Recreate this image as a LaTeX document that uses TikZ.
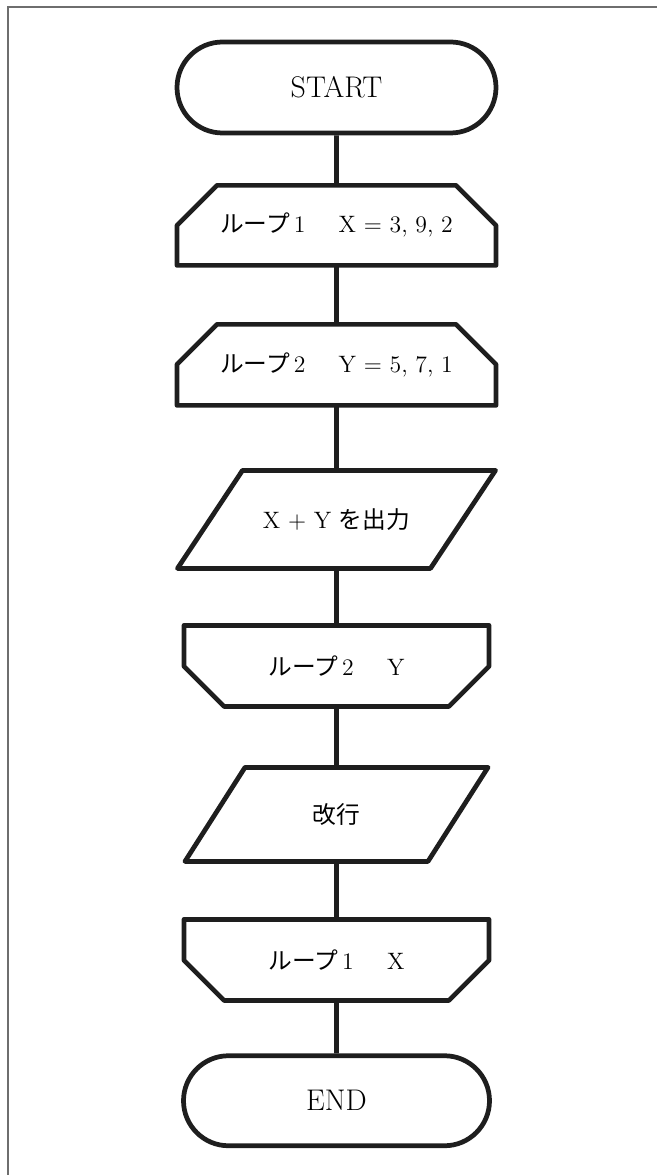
\documentclass[tikz,border=0pt]{standalone}
\usepackage{fontspec}
\newfontfamily\jpfont{Noto Sans CJK JP}
\usetikzlibrary{shapes.misc,positioning,calc}
\definecolor{fcline}{HTML}{1E1E1E}
\definecolor{fcframe}{HTML}{6E6E6E}

\newcommand{\chf}{0.8}
\newcommand{\lgap}{\hspace{1.4em}}

\begin{document}
\begin{tikzpicture}[
  outline/.style={draw=fcline,line width=2.7pt,line join=round},
  term/.style={rounded rectangle,outline,minimum height=1.82cm,inner sep=0pt,
    font=\fontsize{17}{20}\selectfont},
  shapebox/.style={rectangle,inner sep=0pt,outer sep=0pt,minimum height=1.62cm,
    font=\fontsize{13.5}{16}\selectfont},
  link/.style={fcline,line width=2.7pt}]
  \useasboundingbox (0,0) rectangle (13.14,-23.5);
  \draw[fcframe,line width=0.75pt] (13.14,-0.14) -- (0.16,-0.14) -- (0.16,-23.5);

  \node[term,minimum width=6.38cm] (start) at (6.73,-1.75) {START};
  \node[shapebox,minimum width=6.38cm,minimum height=1.6cm,below=1.0cm of start] (lpa)
    {{\jpfont ループ}\,1\lgap X = 3, 9, 2};
  \node[shapebox,minimum width=6.38cm,below=1.18cm of lpa] (lpb)
    {{\jpfont ループ}\,2\lgap Y = 5, 7, 1};
  \node[shapebox,minimum width=6.36cm,minimum height=1.96cm,below=1.3cm of lpb] (out)
    {X + Y {\jpfont を出力}};
  \node[shapebox,minimum width=6.1cm,below=1.14cm of out] (lpc)
    {{\jpfont ループ}\,2\lgap Y};
  \node[shapebox,minimum width=6.06cm,minimum height=1.88cm,below=1.22cm of lpc] (nl)
    {\jpfont 改行};
  \node[shapebox,minimum width=6.1cm,below=1.16cm of nl] (lpd)
    {{\jpfont ループ}\,1\lgap X};
  \node[term,minimum width=6.12cm,minimum height=1.8cm,below=1.06cm of lpd] (end) {END};

  % loop heads: top corners cut
  \foreach \n in {lpa,lpb}
    \draw[outline] (\n.south west) -- ($(\n.north west)+(0,-\chf)$) -- ($(\n.north west)+(\chf,0)$)
      -- ($(\n.north east)+(-\chf,0)$) -- ($(\n.north east)+(0,-\chf)$) -- (\n.south east) -- cycle;
  % loop ends: bottom corners cut
  \foreach \n in {lpc,lpd}
    \draw[outline] (\n.north west) -- (\n.north east) -- ($(\n.south east)+(0,\chf)$)
      -- ($(\n.south east)+(-\chf,0)$) -- ($(\n.south west)+(\chf,0)$) -- ($(\n.south west)+(0,\chf)$) -- cycle;
  % data in/out
  \foreach \n/\s in {out/1.3,nl/1.2}
    \draw[outline] ($(\n.north west)+(\s,0)$) -- (\n.north east) -- ($(\n.south east)+(-\s,0)$)
      -- (\n.south west) -- cycle;

  \draw[link] (start) -- (lpa);
  \draw[link] (lpa) -- (lpb);
  \draw[link] (lpb) -- (out);
  \draw[link] (out) -- (lpc);
  \draw[link] (lpc) -- (nl);
  \draw[link] (nl) -- (lpd);
  \draw[link] (lpd) -- (end);
\end{tikzpicture}
\end{document}
